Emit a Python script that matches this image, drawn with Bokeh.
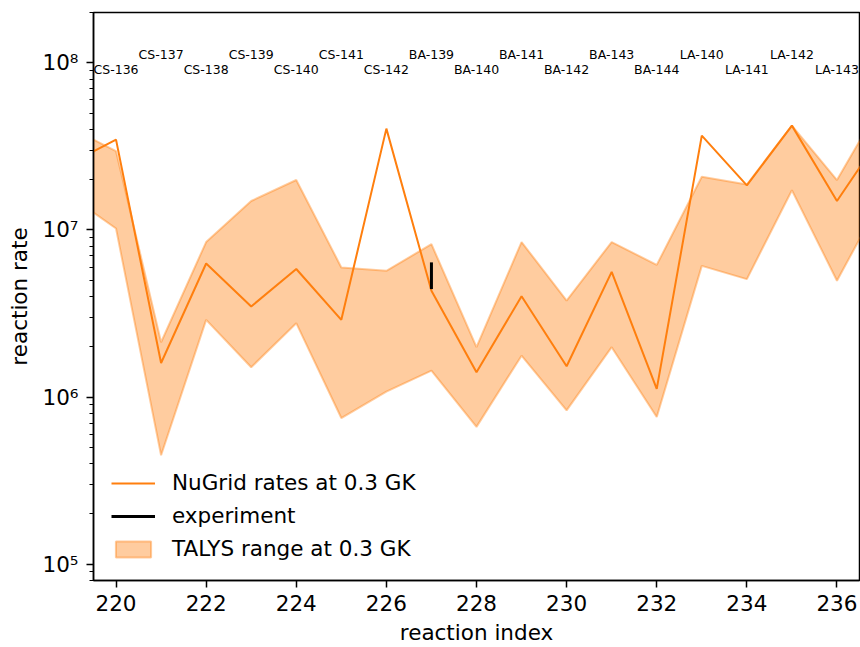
from bokeh.plotting import figure
from bokeh.models import (Range1d, FixedTicker, CustomJSTickFormatter, Legend, LegendItem)
from bokeh.core.properties import value
from bokeh.embed import file_html
from bokeh.resources import INLINE

# ---- data ----
reaction_index = list(range(219, 238))
nugrid_rate = [2.52e7, 3.47e7, 1.6e6, 6.3e6, 3.49e6, 5.84e6, 2.9e6, 4.04e7, 4.33e6, 1.41e6,
               4.01e6, 1.53e6, 5.62e6, 1.12e6, 3.67e7, 1.85e7, 4.21e7, 1.49e7, 3.72e7]
talys_upper = [4.08e7, 2.96e7, 2.13e6, 8.47e6, 1.49e7, 1.99e7, 5.97e6, 5.7e6, 8.22e6, 1.99e6,
               8.47e6, 3.78e6, 8.47e6, 6.18e6, 2.08e7, 1.87e7, 4.21e7, 1.99e7, 5.8e7]
talys_lower = [1.58e7, 1.02e7, 4.49e5, 2.9e6, 1.51e6, 2.77e6, 7.5e5, 1.08e6, 1.44e6, 6.64e5,
               1.77e6, 8.34e5, 1.99e6, 7.6e5, 6.1e6, 5.08e6, 1.73e7, 4.97e6, 1.56e7]

exp_index = [227]
exp_low = [4.43e6]
exp_high = [6.4e6]

label_index = list(range(220, 237))
isotope_labels = ["CS-136", "CS-137", "CS-138", "CS-139", "CS-140", "CS-141", "CS-142",
                  "BA-139", "BA-140", "BA-141", "BA-142", "BA-143", "BA-144",
                  "LA-140", "LA-141", "LA-142", "LA-143"]

x_ticks = [220, 222, 224, 226, 228, 230, 232, 234, 236]
y_decades = [5, 6, 7, 8]

# ---- style ----
ORANGE = "#ff7f0e"
FONT = "DejaVu Sans"
BIG = "21.5px"
Y_MIN, Y_MAX = 8e4, 2e8

p = figure(width=860, height=647, y_axis_type="log",
           x_range=Range1d(219.5, 236.5), y_range=Range1d(Y_MIN, Y_MAX),
           output_backend="svg", toolbar_location=None,
           min_border_left=93, min_border_right=1, min_border_top=12, min_border_bottom=65)

p.grid.visible = False
p.outline_line_color = "black"
p.outline_line_width = 1.5
p.background_fill_color = "white"

# TALYS range polygon
poly_x = reaction_index + reaction_index[::-1]
poly_y = talys_upper + talys_lower[::-1]
talys = p.patch(poly_x, poly_y, fill_color=ORANGE, fill_alpha=0.4,
                line_color=ORANGE, line_alpha=0.4, line_width=2)

nugrid = p.line(reaction_index, nugrid_rate, line_color=ORANGE, line_width=2)

exp = p.segment(x0=exp_index, y0=exp_low, x1=exp_index, y1=exp_high,
                line_color="black", line_width=3)

# isotope labels, alternating heights
label_y = [9.1e7 if i % 2 == 0 else 1.12e8 for i in range(len(isotope_labels))]
p.text(x=label_index, y=label_y, text=isotope_labels, text_font=value(FONT),
       text_font_size="12.5px", text_align="center", text_baseline="middle", text_color="black")

# axes
for ax in (p.xaxis[0], p.yaxis[0]):
    ax.axis_line_color = "black"
    ax.axis_line_width = 1.5
    ax.major_tick_line_color = "black"
    ax.major_tick_line_width = 1.5
    ax.major_tick_in = 0
    ax.major_tick_out = 7
    ax.minor_tick_in = 0
    ax.minor_tick_out = 4
    ax.minor_tick_line_color = "black"
    ax.minor_tick_line_width = 1.2
    ax.major_label_text_font = FONT
    ax.major_label_text_font_size = BIG
    ax.major_label_text_color = "black"
    ax.axis_label_text_font = FONT
    ax.axis_label_text_font_size = BIG
    ax.axis_label_text_font_style = "normal"
    ax.axis_label_text_color = "black"

p.xaxis.axis_label = "reaction index"
p.yaxis.axis_label = "reaction rate"
p.xaxis.ticker = FixedTicker(ticks=x_ticks)
p.xaxis.minor_tick_line_color = None
p.xaxis.major_label_standoff = 7
p.xaxis.axis_label_standoff = 6
p.yaxis.major_label_standoff = 8
p.yaxis.axis_label_standoff = 8

major_y = [10.0 ** e for e in y_decades]
minor_y = [m * 10.0 ** e for e in range(y_decades[0] - 1, y_decades[-1] + 1)
           for m in range(2, 10) if Y_MIN <= m * 10.0 ** e <= Y_MAX]
p.yaxis.ticker = FixedTicker(ticks=major_y, minor_ticks=minor_y)

p.yaxis.formatter = CustomJSTickFormatter(code="""
const sup = {"0":"\u2070","1":"\u00b9","2":"\u00b2","3":"\u00b3","4":"\u2074","5":"\u2075",
             "6":"\u2076","7":"\u2077","8":"\u2078","9":"\u2079","-":"\u207b"};
const e = Math.round(Math.log10(tick));
return "10" + String(e).split("").map(c => sup[c]).join("");
""")

legend = Legend(items=[
    LegendItem(label="NuGrid rates at 0.3 GK", renderers=[nugrid]),
    LegendItem(label="experiment", renderers=[exp]),
    LegendItem(label="TALYS range at 0.3 GK", renderers=[talys]),
], location=(18, 19), border_line_alpha=0, background_fill_alpha=0,
   label_text_font=FONT, label_text_font_size=BIG, label_text_color="black",
   glyph_width=44, glyph_height=20, label_height=24, spacing=8, label_standoff=17,
   padding=0, margin=0)
p.add_layout(legend)

open("out.html", "w").write(file_html(p, INLINE))
